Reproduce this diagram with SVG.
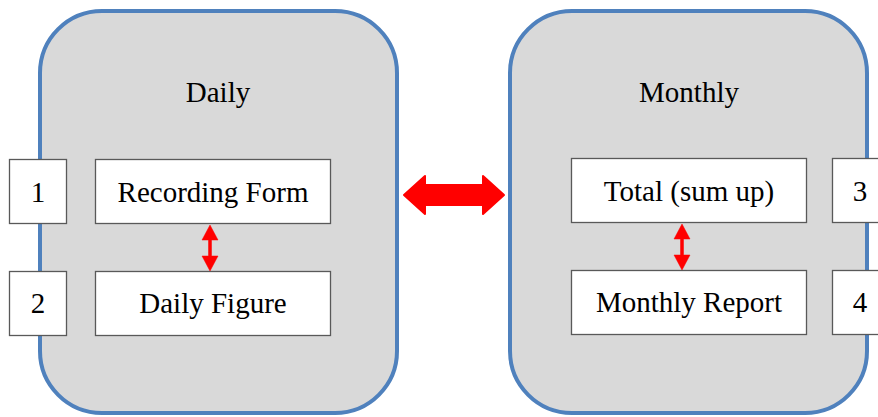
<svg xmlns="http://www.w3.org/2000/svg" width="878" height="417" viewBox="0 0 878 417">
<style>
.cont{fill:#d9d9d9;stroke:#4f81bd;stroke-width:4}
.box{fill:#ffffff;stroke:#595959;stroke-width:1.3}
text{font-family:"Liberation Serif","Times New Roman",serif;font-size:29px;fill:#000;text-anchor:middle}
.red{fill:#ff0000;stroke:#ff0000;stroke-linejoin:round}
</style>
<rect width="878" height="417" fill="#ffffff"/>
<g id="daily">
<rect class="cont" x="40" y="11" width="357" height="402" rx="62" ry="62"/>
<text x="218" y="102">Daily</text>
</g>
<g id="monthly">
<rect class="cont" x="510" y="11" width="357" height="402" rx="62" ry="62"/>
<text x="689" y="102">Monthly</text>
</g>
<g id="n1"><rect class="box" x="9.5" y="159.5" width="57" height="64"/><text x="38" y="202">1</text></g>
<g id="recording"><rect class="box" x="95.5" y="159.5" width="235" height="64"/><text x="213" y="202">Recording Form</text></g>
<g id="n2"><rect class="box" x="9.5" y="271.5" width="57" height="64"/><text x="38" y="313">2</text></g>
<g id="dailyfig"><rect class="box" x="95.5" y="271.5" width="235" height="64"/><text x="213" y="313">Daily Figure</text></g>
<g id="total"><rect class="box" x="571.5" y="158.5" width="235" height="64"/><text x="689" y="201">Total (sum up)</text></g>
<g id="n3"><rect class="box" x="832.5" y="158.5" width="60" height="64"/><text x="860" y="201">3</text></g>
<g id="report"><rect class="box" x="571.5" y="270.5" width="235" height="64"/><text x="689" y="312">Monthly Report</text></g>
<g id="n4"><rect class="box" x="832.5" y="270.5" width="60" height="64"/><text x="860" y="312">4</text></g>
<g id="connectors">
<path class="red" stroke-width="2" d="M404,195 L425,176 L425,185 L483,185 L483,176 L504,195 L483,214 L483,205 L425,205 L425,214 Z"/>
<path class="red" stroke-width="0.5" d="M210,225 L218,240 L211.5,240 L211.5,256 L218,256 L210,271 L202,256 L208.5,256 L208.5,240 L202,240 Z"/>
<path class="red" stroke-width="0.5" d="M682,224 L690,239 L683.5,239 L683.5,255 L690,255 L682,270 L674,255 L680.5,255 L680.5,239 L674,239 Z"/>
</g>
</svg>
